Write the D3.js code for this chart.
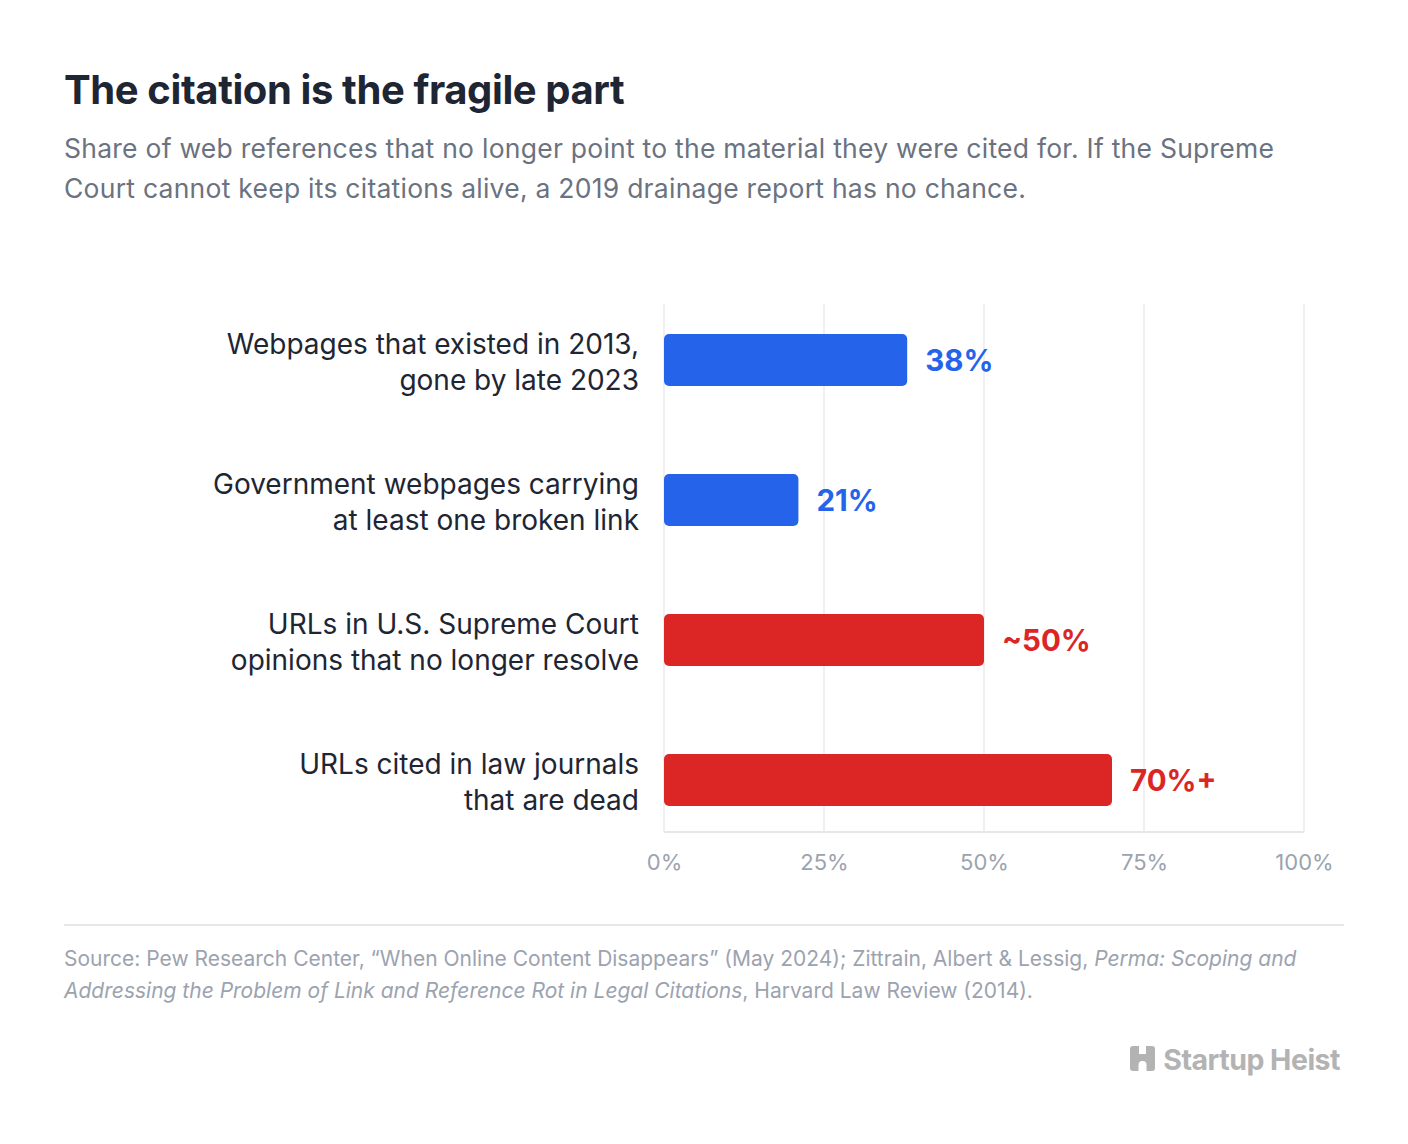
<!DOCTYPE html>
<html><head><meta charset="utf-8">
<script src="https://cdn.jsdelivr.net/npm/d3@7"></script>
<style>
html,body{margin:0;padding:0;background:#fff;}
svg{display:block;font-family:Inter, "Noto Sans", sans-serif;}
</style></head>
<body><svg id="c" width="1408" height="1144"></svg>
<script>
const categories = [
  ["Webpages that existed in 2013,", "gone by late 2023"],
  ["Government webpages carrying", "at least one broken link"],
  ["URLs in U.S. Supreme Court", "opinions that no longer resolve"],
  ["URLs cited in law journals", "that are dead"]
];
const values = [38, 21, 50, 70];
const valueLabels = ["38%", "21%", "~50%", "70%+"];
const groups = ["web", "web", "law", "law"];
const tickValues = [0, 25, 50, 75, 100];
const tickLabels = ["0%", "25%", "50%", "75%", "100%"];
const colors = {web: "#2563eb", law: "#dc2626"};

const svg = d3.select("#c");
svg.append("rect").attr("width",1408).attr("height",1144).attr("fill","#fff");

svg.append("text").attr("x",64).attr("y",104).attr("fill","#1e2533")
  .attr("font-size",40).attr("font-weight",700).attr("letter-spacing","-0.4")
  .text("The citation is the fragile part");
const sub = ["Share of web references that no longer point to the material they were cited for. If the Supreme",
  "Court cannot keep its citations alive, a 2019 drainage report has no chance."];
sub.forEach((s,i)=>svg.append("text").attr("x",64).attr("y",158+i*40).attr("fill","#6b7280")
  .attr("font-size",26.5).attr("letter-spacing","0.25").text(s));

const x = d3.scaleLinear().domain([0,100]).range([664,1304]);
const y = d3.scaleBand().domain(d3.range(categories.length)).range([290,850]).paddingInner(0.6286).paddingOuter(0.3143);

const gTop = 304, gBot = 832;
svg.append("g").selectAll("line").data(tickValues).join("line")
  .attr("x1",d=>x(d)).attr("x2",d=>x(d)).attr("y1",gTop).attr("y2",gBot)
  .attr("stroke","#f0f0f2").attr("stroke-width",2);
svg.append("line").attr("x1",x(0)).attr("x2",x(100)).attr("y1",gBot).attr("y2",gBot)
  .attr("stroke","#e5e7eb").attr("stroke-width",2);

const axis = d3.axisBottom(x).tickValues(tickValues).tickFormat((d,i)=>tickLabels[i]).tickSize(0).tickPadding(22);
const ax = svg.append("g").attr("transform",`translate(0,${gBot})`).call(axis);
ax.select(".domain").remove();
ax.selectAll("text").attr("font-size",22).attr("fill","#9ca3af").attr("font-family","Inter, sans-serif");

svg.append("g").selectAll("rect").data(values).join("rect")
  .attr("x",x(0)).attr("y",(d,i)=>y(i)).attr("width",d=>x(d)-x(0)).attr("height",y.bandwidth())
  .attr("rx",5).attr("fill",(d,i)=>colors[groups[i]]);

svg.append("g").selectAll("text").data(values).join("text")
  .attr("x",d=>x(d)+18).attr("y",(d,i)=>y(i)+y.bandwidth()/2).attr("dy","0.36em")
  .attr("font-size",29.5).attr("font-weight",700).attr("fill",(d,i)=>colors[groups[i]])
  .text((d,i)=>valueLabels[i]);

categories.forEach((lines,i)=>{
  const cy = y(i)+y.bandwidth()/2 + 2;
  lines.forEach((l,j)=>svg.append("text").attr("x",639).attr("y",cy+(j-0.5)*36).attr("dy","0.36em")
    .attr("text-anchor","end").attr("font-size",28).attr("fill","#1e2533").text(l));
});

svg.append("line").attr("x1",64).attr("x2",1344).attr("y1",925).attr("y2",925).attr("stroke","#e5e7eb").attr("stroke-width",2);
const s1 = svg.append("text").attr("x",64).attr("y",966).attr("font-size",21).attr("fill","#9ca3af");
s1.append("tspan").text("Source: Pew Research Center, \u201CWhen Online Content Disappears\u201D (May 2024); Zittrain, Albert & Lessig, ");
s1.append("tspan").attr("font-style","italic").text("Perma: Scoping and");
const s2 = svg.append("text").attr("x",64).attr("y",998).attr("font-size",21).attr("fill","#9ca3af");
s2.append("tspan").attr("font-style","italic").text("Addressing the Problem of Link and Reference Rot in Legal Citations");
s2.append("tspan").text(", Harvard Law Review (2014).");

// logo
const lg = svg.append("g");
lg.append("rect").attr("x",1130).attr("y",1046).attr("width",25).attr("height",25).attr("rx",3).attr("fill","#b3b3b3");
lg.append("rect").attr("x",1139).attr("y",1044).attr("width",7).attr("height",10).attr("fill","#fff");
lg.append("path").attr("d","M1138.5,1073 V1065 a4,4 0 0 1 8,0 V1073 Z").attr("fill","#fff");
lg.append("text").attr("x",1340).attr("y",1070).attr("text-anchor","end").attr("font-size",28.5)
  .attr("font-weight",700).attr("letter-spacing","-0.5").attr("fill","#b3b3b3").text("Startup Heist");
</script></body></html>
